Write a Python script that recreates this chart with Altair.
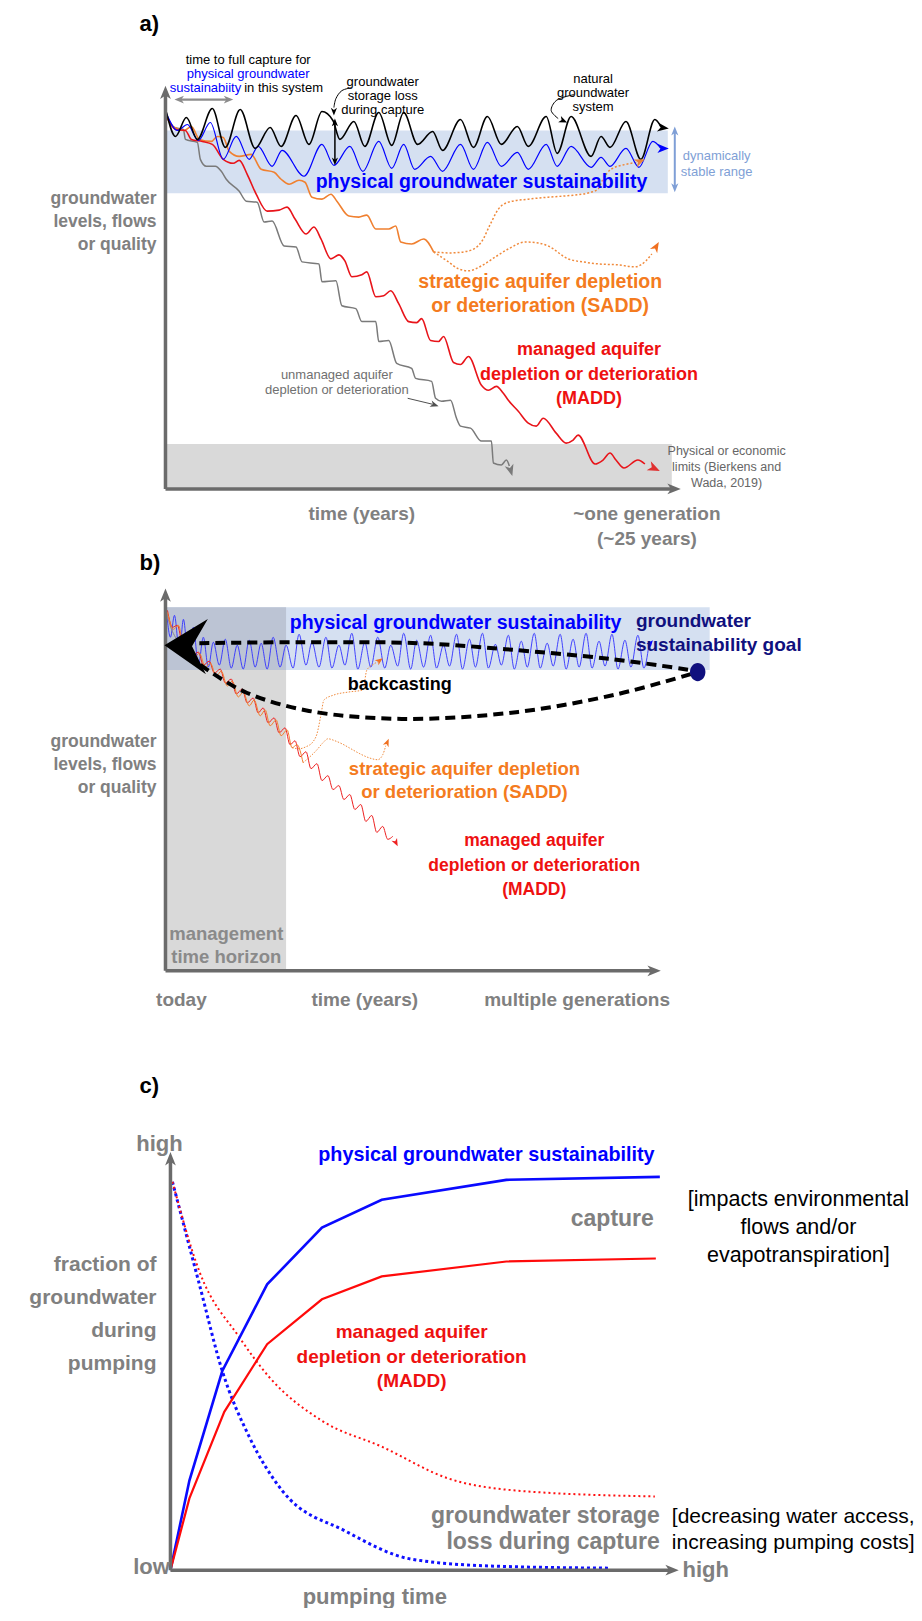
import math
import altair as alt
import pandas as pd

W, H = 906, 1600
XS = alt.Scale(domain=[8, 8 + W], nice=False, zero=False)
YS = alt.Scale(domain=[8, 8 + H], nice=False, zero=False, reverse=True)
FONT = "Liberation Sans"

BLUE = "#0000ff"
RED = "#ff0000"
ORANGE = "#f47b20"
GRAYTXT = "#808080"
AXIS = "#6b6b6b"
BAND = "#d5e0f1"
GBAND = "#d9d9d9"
DARKBAND = "#bcc4d4"
NAVY = "#10107e"
LBLUE = "#7f9fd6"

# ---------------- data: panel a ----------------
a_black_x = [167,176,187,198,213,226,241,256,271,282,297,310,323,334,341,355,366,380,393,405,419,434,444,462,475,489,503,519,530,548,559,573,593,603,612,628,643,657,663]
a_black_y = [113,137,118,140,109,148,110,149,128,147,116,145,112,121,140,122,147,113,146,113,145,132,151,120,148,117,145,127,147,117,154,117,157,137,148,122,160,120,127]
a_blue_x = [167,178,188,199,211,224,237,250,259,273,283,305,323,335,351,364,380,393,405,416,432,444,462,475,489,503,519,530,548,559,573,593,603,612,628,641,655,663]
a_blue_y = [114,131,125,141,123,160,137,160,147,167,151,177,145,166,147,172,142,169,145,170,157,172,145,170,143,167,153,170,145,167,147,168,158,167,149,168,142,149]
a_orange_x = [167,175,185,192,200,212,218,224,230,240,252,262,275,282,290,300,306,313,323,332,338,350,360,368,377,390,397,402,413,425,435]
a_orange_y = [117,128,131,127,140,142,137,138,152,157,155,170,173,180,185,181,183,198,200,195,202,217,218,216,230,230,227,243,245,240,253]
a_orange_up_x = [435,452,470,483,492,500,510,530,550,575,593,600,605,613,628,640]
a_orange_up_y = [253,254,252,243,225,210,203,200,198,196,193,190,180,170,165,163]
a_orange_mid_x = [435,450,460,470,483,497,510,527,540,550,570,585,600,620,637,648,654]
a_orange_mid_y = [253,263,270,272,267,258,250,243,244,247,260,263,265,266,268,262,255]
a_red_x = [167,176,186,192,203,213,224,234,240,248,257,268,280,288,296,307,315,322,332,340,346,353,363,368,377,385,392,400,410,418,423,432,440,445,455,462,470,483,490,498,505,510,520,530,538,545,558,568,575,580,597,605,612,618,626,640,647]
a_red_y = [117,130,131,140,142,145,160,164,161,175,195,212,211,208,220,235,228,240,260,256,262,278,276,273,298,297,292,305,323,324,320,342,343,338,364,366,358,387,392,388,395,402,413,425,428,420,435,445,442,437,466,462,455,462,470,462,466]
a_gray_x = [167,175,184,186,198,201,207,216,222,227,240,247,258,265,273,285,297,303,320,323,337,343,357,363,377,380,390,398,413,417,433,437,443,452,458,462,472,483,493,495,503,508,511]
a_gray_y = [117,128,130,140,143,160,167,167,172,180,192,202,203,223,222,247,248,263,265,283,282,307,310,323,323,343,342,365,370,380,383,400,403,402,420,428,430,443,443,465,467,462,468]

# ---------------- data: panel b ----------------
b_blue_x = [167,171,175,180,184,189,194,199,204,209,214,220,226,232,238,244,250,256,262,268,274,281,287,294,300,307,313,320,327,333,340,346,353,359,366,372,379,386,392,399,405,412,418,425,432,438,445,451,458,464,471,477,484,490,497,503,510,516,523,529,536,542,549,555,562,568,575,581,588,594,601,607,614,620,627,633,640,646,651]
b_blue_y = [614,640,618,655,622,662,630,668,640,670,645,668,642,671,648,672,643,670,646,672,640,670,648,671,637,668,645,670,640,671,648,668,636,672,645,670,640,671,648,669,636,672,643,670,638,671,648,669,637,672,642,670,636,671,647,668,638,672,644,670,636,671,646,669,637,672,642,670,636,671,644,669,637,672,643,670,638,671,648]
b_red_x = [168,173,178,183,188,193,199,204,210,215,221,226,232,237,243,248,254,259,264,269,275,280,286,291,296,301,307,312,318,323,329,334,340,345,351,356,362,367,373,378,384,389,394]
b_red_y = [613,630,628,645,642,658,655,668,664,676,672,686,682,697,692,706,701,716,711,726,721,736,731,748,744,760,755,772,767,784,779,793,789,803,798,813,808,825,819,836,830,843,840]
b_orange_x = [168,174,179,184,189,195,200,206,211,217,222,228,233,239,244,250,255,261,266,271,277,282,288,293,298,304]
b_orange_y = [615,632,628,647,643,660,656,670,666,679,674,689,684,700,695,709,703,719,713,729,723,739,733,751,748,766]
b_orange_up_x = [293,300,307,314,318,322,325,335,350,364,368,375,380]
b_orange_up_y = [751,752,750,745,737,718,703,698,695,693,673,667,664]
b_orange_mid_x = [304,311,318,324,329,336,343,352,361,370,379,384,387]
b_orange_mid_y = [766,760,753,746,742,744,747,752,757,761,763,758,749]
b_gray_x = [167,172,176,182,186,190,195]
b_gray_y = [616,632,640,648,660,662,668]
b_back_top_x = [200,300,421,507,614,693]
b_back_top_y = [646,645,646,652,662,673]
b_back_low_x = [693,620,520,403,310,248,210,196]
b_back_low_y = [677,697,715,722,714,696,674,664]

# ---------------- data: panel c ----------------
c_capture_x = [171,190,223,268,323,383,508,662]
c_capture_y = [1577,1487,1377,1290,1233,1205,1185,1182]
c_madd_x = [171,190,225,268,323,383,508,658]
c_madd_y = [1577,1505,1418,1350,1305,1282,1267,1264]
c_madd_loss_x = [173,200,240,270,323,383,450,517,657]
c_madd_loss_y = [1187,1277,1343,1383,1427,1453,1485,1497,1503]
c_loss_x = [173,200,223,250,283,347,413,496,610]
c_loss_y = [1187,1290,1377,1443,1497,1538,1566,1573,1575]

layers = []
heads = []
ARROW = "M0,0L0.8,2L0,1.45L-0.8,2Z"
BIGARROW = "M0,0L1.3,2L0,1.3L-1.3,2Z"
ELLIPSE = "M0,-1A0.85,1,0,1,1,0,1A0.85,1,0,1,1,0,-1Z"


def X(f="x"):
    return alt.X(f + ":Q", scale=XS, axis=None)


def Y(f="y"):
    return alt.Y(f + ":Q", scale=YS, axis=None)


def line(xs, ys, color, width, dash=None, interp="linear", opacity=1.0, cap="butt"):
    df = pd.DataFrame({"x": xs, "y": ys, "i": list(range(len(xs)))})
    kw = dict(color=color, strokeWidth=width, interpolate=interp, opacity=opacity, strokeCap=cap)
    if dash:
        kw["strokeDash"] = dash
    layers.append(alt.Chart(df).mark_line(**kw).encode(x=X(), y=Y(), order=alt.Order("i:Q")))


def rect(x1, x2, y1, y2, color):
    df = pd.DataFrame({"x": [x1], "x2": [x2], "y": [y1], "y2": [y2]})
    layers.append(alt.Chart(df).mark_rect(color=color).encode(
        x=X(), x2=alt.X2("x2:Q"), y=Y(), y2=alt.Y2("y2:Q")))


def head(tip, frm, color, size):
    dx = tip[0] - frm[0]
    dy = tip[1] - frm[1]
    ang = math.degrees(math.atan2(dx, -dy)) % 360
    heads.append({"x": tip[0], "y": tip[1], "a": ang, "c": color, "s": size})


texts = []


def text(lines, x, y0, size, color, bold=True, align="center", dy=None):
    dy = dy if dy is not None else size * 1.3
    df = pd.DataFrame({"x": [x] * len(lines), "y": [y0 + k * dy for k in range(len(lines))], "t": lines})
    texts.append(alt.Chart(df).mark_text(align=align, baseline="middle", fontSize=size, font=FONT,
                                          fontWeight="bold" if bold else "normal", color=color).encode(
        x=X(), y=Y(), text="t:N"))


# ================= panel a =================
rect(166, 670, 131, 194, BAND)
rect(166, 674, 446, 491, GBAND)
line(a_orange_up_x, a_orange_up_y, "#f08a3c", 1.5, dash=[2, 2], interp="monotone")
head((647, 160), (640, 163), "#e8823a", 110)
line(a_orange_mid_x, a_orange_mid_y, "#f08a3c", 1.5, dash=[2, 2], interp="monotone")
head((661, 243), (654, 255), "#f07020", 110)
line(a_gray_x, a_gray_y, "#7a7a7a", 1.5, interp="monotone")
head((514, 478), (511, 468), "#7a7a7a", 130)
line(a_orange_x, a_orange_y, "#f08030", 1.6, interp="monotone")
line(a_red_x, a_red_y, "#e8141a", 1.6, interp="monotone")
head((662, 473), (647, 466), "#e03030", 150)
line(a_blue_x, a_blue_y, BLUE, 1.2, interp="monotone")
head((671, 149), (663, 149), BLUE, 130)
line(a_black_x, a_black_y, "#000000", 1.6, interp="monotone")
head((671, 129), (663, 128), "#000000", 130)

# axes a
line([166, 166], [491, 95], AXIS, 3.5)
head((166, 86), (166, 95), AXIS, 180)
line([166, 674], [491, 491], AXIS, 3.5)
head((683, 491), (674, 491), AXIS, 180)

# annotation arrows a
line([180, 229], [100, 100], "#8c8c8c", 2.2)
head((175, 100), (180, 100), "#8c8c8c", 90)
head((234, 100), (229, 100), "#8c8c8c", 90)
line([353, 343, 337, 335], [88, 91, 99, 108], "#000000", 1.0, interp="catmull-rom")
head((335, 116), (335, 108), "#000000", 60)
line([336, 336], [123, 162], "#000000", 1.5)
head((336, 119), (336, 123), "#000000", 60)
head((336, 166), (336, 162), "#000000", 60)
line([576, 558, 553, 560], [95, 101, 111, 119], "#000000", 1.0, interp="catmull-rom")
head((569, 123), (560, 119), "#000000", 70)
line([677, 677], [132, 188], LBLUE, 2.0)
head((677, 127), (677, 132), LBLUE, 80)
head((677, 193), (677, 188), LBLUE, 80)
line([409, 434], [400, 406], "#505050", 1.0)
head((440, 408), (434, 406), "#505050", 70)

# texts a
text(["a)"], 140, 24, 22, "#000000", align="left")
text(["time to full capture for"], 249, 60, 13, "#000000", bold=False)
text(["physical groundwater"], 249, 74, 13, BLUE, bold=False)
text(["sustainabiity"], 242, 88, 13, BLUE, bold=False, align="right")
text(["in this system"], 245, 88, 13, "#000000", bold=False, align="left")
text(["groundwater", "storage loss", "during capture"], 384, 82, 13, "#000000", bold=False, dy=14)
text(["natural", "groundwater", "system"], 595, 79, 13, "#000000", bold=False, dy=14)
text(["dynamically", "stable range"], 719, 157, 13, LBLUE, bold=False, dy=15.5)
text(["physical groundwater sustainability"], 483, 183, 19.5, BLUE)
text(["strategic aquifer depletion", "or deterioration (SADD)"], 542, 283, 19.5, ORANGE, dy=24.5)
text(["managed aquifer", "depletion or deterioration", "(MADD)"], 591, 352, 18, "#ee1111", dy=24.5)
text(["unmanaged aquifer", "depletion or deterioration"], 338, 377, 13, "#707070", bold=False, dy=15)
text(["Physical or economic", "limits (Bierkens and", "Wada, 2019)"], 729, 453, 12.5, "#666666", bold=False, dy=16)
text(["groundwater", "levels, flows", "or quality"], 157, 200, 17.5, GRAYTXT, align="right", dy=23)
text(["time (years)"], 363, 516, 19, GRAYTXT)
text(["~one generation", "(~25 years)"], 649, 516, 19, GRAYTXT, dy=25)

# ================= panel b =================
rect(166, 712, 610, 673, BAND)
rect(166, 287, 673, 975, GBAND)
rect(166, 287, 610, 673, DARKBAND)
line(b_blue_x, b_blue_y, "#3030ff", 0.9, interp="monotone")
head((655, 643), (651, 648), BLUE, 50)
line(b_gray_x, b_gray_y, "#8a8a8a", 1.0, interp="monotone")
line(b_orange_up_x, b_orange_up_y, "#f08a3c", 1.0, dash=[1.5, 1.5], interp="monotone")
head((384, 661), (380, 664), "#f07020", 60)
line(b_orange_mid_x, b_orange_mid_y, "#f08a3c", 1.0, dash=[1.5, 1.5], interp="monotone")
head((390, 742), (387, 749), "#f07020", 60)
line(b_red_x, b_red_y, "#ee2020", 1.0, interp="monotone")
head((399, 850), (394, 840), "#ee2020", 60)
line(b_orange_x, b_orange_y, "#f08030", 1.0, interp="monotone")
line(b_back_top_x, b_back_top_y, "#000000", 4, dash=[10, 6], interp="catmull-rom")
line(b_back_low_x, b_back_low_y, "#000000", 4, dash=[10, 6], interp="catmull-rom")

# axes b
line([166, 166], [975, 600], AXIS, 3.5)
head((166, 591), (166, 600), AXIS, 180)
line([166, 654], [975, 975], AXIS, 3.5)
head((663, 975), (654, 975), AXIS, 180)

# texts b
text(["b)"], 140, 565, 22, "#000000", align="left")
text(["physical groundwater sustainability"], 457, 626, 19.5, BLUE)
text(["groundwater", "sustainability goal"], 638, 624, 19, NAVY, align="left", dy=24)
text(["backcasting"], 401, 688, 18, "#000000")
text(["strategic aquifer depletion", "or deterioration (SADD)"], 466, 772, 18.5, ORANGE, dy=23.5)
text(["managed aquifer", "depletion or deterioration", "(MADD)"], 536, 845, 17.5, "#ee1111", dy=24.5)
text(["management", "time horizon"], 227, 938, 18.5, "#8a8a8a", dy=23)
text(["groundwater", "levels, flows", "or quality"], 157, 745, 17.5, GRAYTXT, align="right", dy=23)
text(["today"], 182, 1004, 19, GRAYTXT)
text(["time (years)"], 366, 1004, 19, GRAYTXT)
text(["multiple generations"], 579, 1004, 19, GRAYTXT)

# ================= panel c =================
line(c_loss_x, c_loss_y, "#1010ff", 3, dash=[3, 3], interp="monotone")
line(c_madd_loss_x, c_madd_loss_y, "#ff1010", 2, dash=[2, 3], interp="monotone")
line(c_capture_x, c_capture_y, "#0a0aff", 2.6)
line(c_madd_x, c_madd_y, "#ff0a0a", 2.2)

line([171, 171], [1577, 1166], AXIS, 3.5)
head((171, 1157), (171, 1166), AXIS, 180)
line([171, 672], [1577, 1577], AXIS, 3.5)
head((681, 1577), (672, 1577), AXIS, 180)

text(["c)"], 140, 1091, 22, "#000000", align="left")
text(["high"], 160, 1149, 22, GRAYTXT)
text(["low"], 152, 1574, 22, GRAYTXT)
text(["high"], 708, 1577, 22, GRAYTXT)
text(["pumping time"], 376, 1604, 22, GRAYTXT)
text(["fraction of\u00a0", "groundwater", "during", "pumping"], 157, 1271, 21, GRAYTXT, align="right", dy=33)
text(["physical groundwater sustainability"], 488, 1160, 19.8, BLUE)
text(["capture"], 656, 1224, 23, GRAYTXT, align="right")
text(["[impacts environmental", "flows and/or", "evapotranspiration]"], 801, 1205, 21.5, "#000000", bold=False, dy=28)
text(["managed aquifer", "depletion or deterioration", "(MADD)"], 413, 1338, 19, "#ee1111", dy=24.5)
text(["groundwater storage", "loss during capture"], 662, 1523, 23, GRAYTXT, align="right", dy=26)
text(["[decreasing water access,", "increasing pumping costs]"], 674, 1524, 21, "#000000", bold=False, align="left", dy=26)

# backcasting goal dot and big arrow
dot = pd.DataFrame({"x": [700], "y": [675]})
dot_layer = alt.Chart(dot).mark_point(shape=ELLIPSE, filled=True, color=NAVY, opacity=1, size=330,
                                      strokeWidth=0).encode(x=X(), y=Y())
big = pd.DataFrame({"x": [165], "y": [648], "a": [272]})
big_layer = alt.Chart(big).mark_point(shape=BIGARROW, filled=True, color="#000000", opacity=1, size=1800,
                                      strokeWidth=0).encode(x=X(), y=Y(), angle=alt.Angle("a:Q", scale=None))

heads_df = pd.DataFrame(heads)
heads_layer = alt.Chart(heads_df).mark_point(shape=ARROW, filled=True, opacity=1, strokeWidth=0).encode(
    x=X(), y=Y(), angle=alt.Angle("a:Q", scale=None), color=alt.Color("c:N", scale=None),
    size=alt.Size("s:Q", scale=None))

chart = alt.layer(*layers, dot_layer, big_layer, heads_layer, *texts).properties(
    width=W, height=H, padding=0,
    autosize=alt.AutoSizeParams(type="fit", contains="padding"),
).configure_view(stroke=None)

chart.save("out.html", embed_options={"renderer": "svg", "actions": False})
